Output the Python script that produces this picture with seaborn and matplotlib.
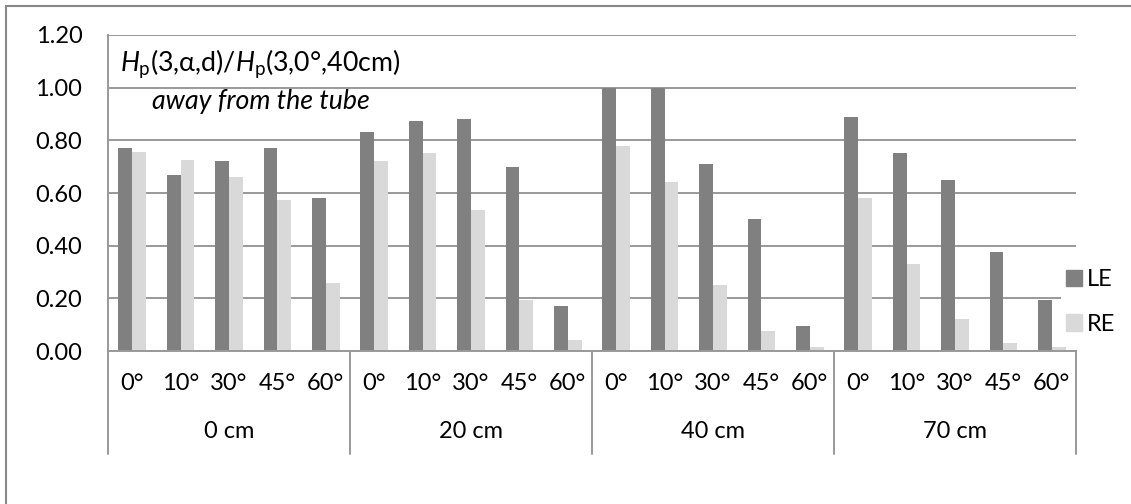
import matplotlib
matplotlib.use("Agg")
import matplotlib.pyplot as plt
import matplotlib.patches as mpatches
import matplotlib.transforms as mtransforms
import pandas as pd
import seaborn as sns

# data
distances = ["0 cm", "20 cm", "40 cm", "70 cm"]
angles = ["0°", "10°", "30°", "45°", "60°"]
le_values = [0.77, 0.67, 0.72, 0.77, 0.58,
             0.83, 0.875, 0.88, 0.70, 0.17,
             1.00, 1.00, 0.71, 0.50, 0.095,
             0.89, 0.75, 0.65, 0.375, 0.195]
re_values = [0.755, 0.725, 0.66, 0.575, 0.26,
             0.72, 0.75, 0.535, 0.195, 0.04,
             0.78, 0.64, 0.25, 0.075, 0.015,
             0.58, 0.33, 0.12, 0.03, 0.015]
series = ["LE", "RE"]
colors = ["#808080", "#d9d9d9"]

sns.set_style("white")
plt.rcParams["font.family"] = ["Lato", "DejaVu Sans"]
plt.rcParams["mathtext.fontset"] = "custom"
plt.rcParams["mathtext.rm"] = "Lato"
plt.rcParams["mathtext.it"] = "Lato:italic"
plt.rcParams["text.color"] = "black"
plt.rcParams["xtick.color"] = "black"
plt.rcParams["ytick.color"] = "black"

# long table
slots = [f"{d}|{a}" for d in distances for a in angles]
df = pd.DataFrame({
    "slot": slots * 2,
    "value": le_values + re_values,
    "eye": ["LE"] * len(slots) + ["RE"] * len(slots),
})

fig = plt.figure(figsize=(11.31, 5.04), dpi=100)
ax = fig.add_axes([108 / 1131, 153 / 504, 968 / 1131, 316 / 504])

sns.barplot(data=df, x="slot", y="value", hue="eye", order=slots,
            hue_order=series, palette=colors, width=0.57, gap=0,
            edgecolor="none", linewidth=0, ax=ax)

ax.set_xlim(-0.5, len(slots) - 0.5)
ax.set_ylim(0, 1.2)
ax.set_yticks([0, 0.2, 0.4, 0.6, 0.8, 1.0, 1.2])
ax.set_yticklabels([f"{v:.2f}" for v in ax.get_yticks()])
ax.yaxis.grid(True, color="#999999", linewidth=1.4)
ax.set_axisbelow(True)
ax.set_xlabel("")
ax.set_ylabel("")
ax.set_xticks(range(len(slots)))
ax.set_xticklabels(angles * len(distances))
ax.tick_params(axis="x", length=0, pad=15.5, labelsize=17)
ax.tick_params(axis="y", length=0, pad=18.5, labelsize=17)
for side in ["top", "right"]:
    ax.spines[side].set_visible(False)
ax.spines["left"].set_color("#999999")
ax.spines["bottom"].set_color("#999999")
ax.spines["left"].set_linewidth(1.4)
ax.spines["bottom"].set_linewidth(1.4)

# multi-level category axis
trans = mtransforms.blended_transform_factory(ax.transData, ax.transAxes)
for i in range(len(distances) + 1):
    xb = i * len(angles) - 0.5
    ax.plot([xb, xb], [0, -0.326], color="#999999", lw=1.4,
            transform=trans, clip_on=False)
for i, d in enumerate(distances):
    xc = i * len(angles) + (len(angles) - 1) / 2
    ax.text(xc, -0.256, d, transform=trans, ha="center", va="center",
            fontsize=17)

# annotation text
tr2 = mtransforms.blended_transform_factory(ax.transAxes, ax.transData)
ax.text(0.012, 1.09, r"$H_\mathrm{p}$(3,α,d)/$H_\mathrm{p}$(3,0°,40cm)",
        transform=tr2, ha="left", va="center", fontsize=19.3)
ax.text(0.045, 0.948, "away from the tube", style="italic",
        transform=tr2, ha="left", va="center", fontsize=19.3)

# legend
ax.get_legend().remove()
handles = [mpatches.Patch(color=c) for c in colors]
leg = fig.legend(handles, series, loc="center left",
                 bbox_to_anchor=(1061 / 1131, 1 - 302 / 504),
                 frameon=True, fontsize=17, handlelength=0.68,
                 handleheight=0.68, handletextpad=0.2, labelspacing=1.0,
                 borderpad=0.2, borderaxespad=0)
leg.get_frame().set_facecolor("white")
leg.get_frame().set_edgecolor("none")
leg.get_frame().set_alpha(1)

# outer chart border
fig.patches.append(mpatches.Rectangle((6 / 1131, -0.5), 2, 0.5 + 1 - 6 / 504,
                                      transform=fig.transFigure, fill=False,
                                      edgecolor="#888888", lw=1.5))

fig.savefig("out.png", dpi=100)
